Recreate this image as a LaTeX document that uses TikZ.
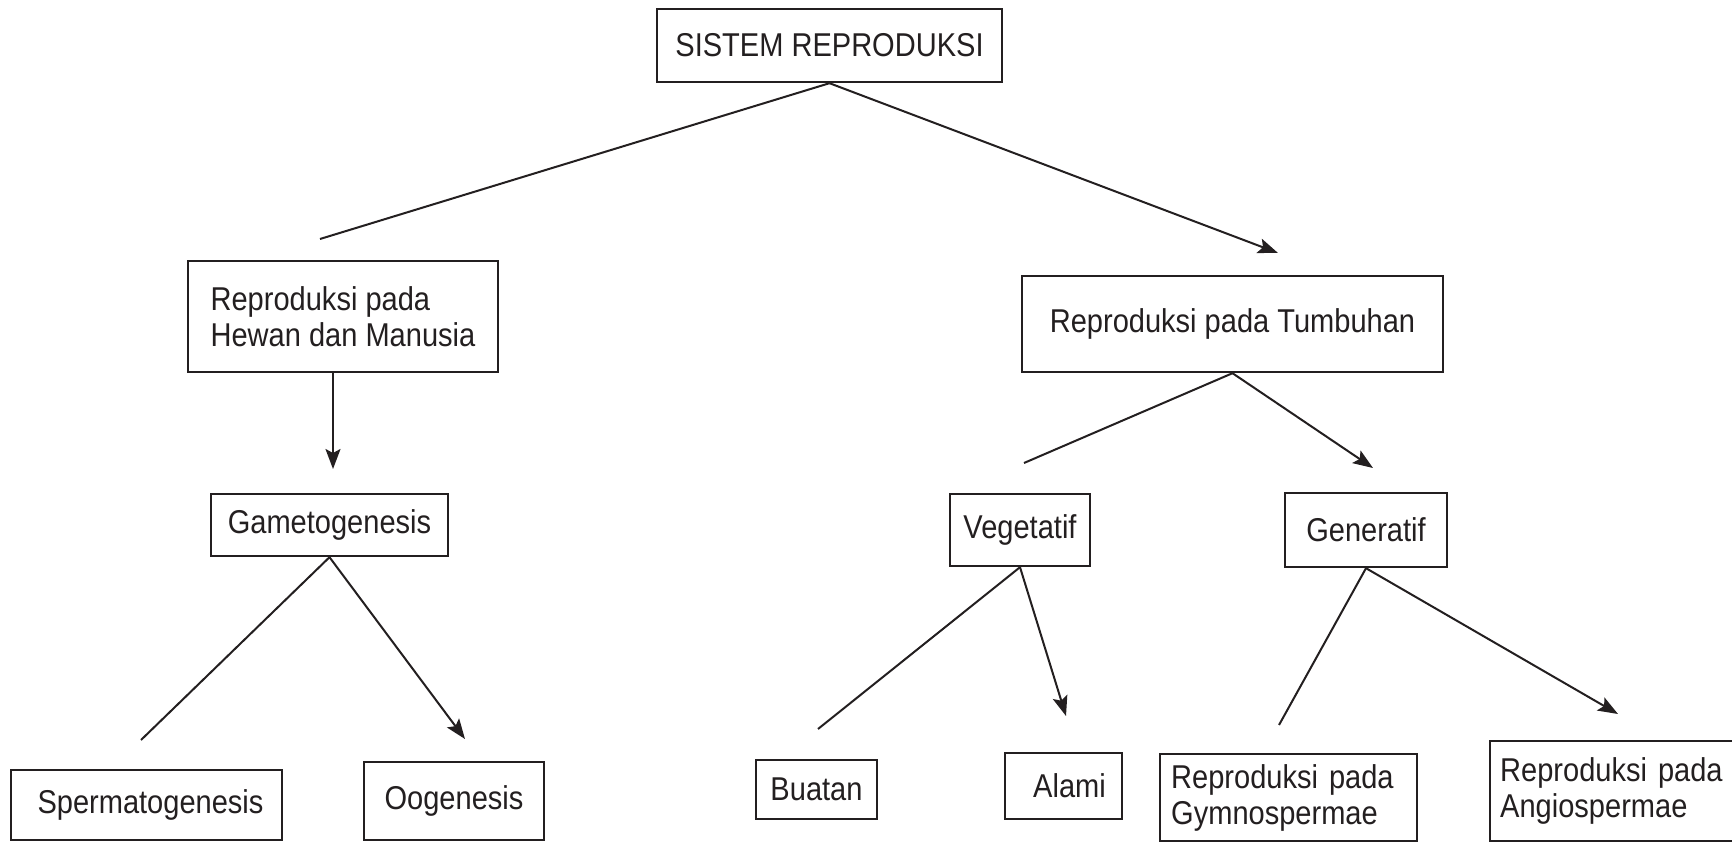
\documentclass[tikz,border=0pt]{standalone}
\usepackage{fontspec}
\setmainfont{Liberation Sans}[FakeStretch=0.88]
\usepackage{tikz}
\usetikzlibrary{arrows.meta, positioning}

\definecolor{ink}{RGB}{35,31,32}

\begin{document}
\begin{tikzpicture}[
    x=1pt, y=-1pt,
    every node/.style={font=\fontsize{33}{36}\selectfont, text=ink},
    box/.style={rectangle, draw=ink, line width=2.4pt, inner sep=0pt, align=center},
    link/.style={draw=ink, line width=2pt},
    arrow/.style={link, -{Stealth[length=20pt, width=15pt, inset=4pt]}}
]
\useasboundingbox (0,0) rectangle (1732,842);

% boxes
\node[box, minimum width=345, minimum height=73] (sys) at (829.5,45.5) {SISTEM REPRODUKSI};
\node[box, minimum width=310, minimum height=111, align=left] (hewan) at (343,316.5) {Reproduksi pada\\Hewan dan Manusia};
\node[box, minimum width=421, minimum height=96] (tumbuhan) at (1232.5,324) {Reproduksi pada Tumbuhan};
\node[box, minimum width=237, minimum height=62] (gameto) at (329.5,525) {Gametogenesis};
\node[box, minimum width=140, minimum height=72] (vegetatif) at (1020,530) {Vegetatif};
\node[box, minimum width=162, minimum height=74] (generatif) at (1366,530) {Generatif};
\node[box, minimum width=271, minimum height=70] (sperma) at (146.5,805) {\hspace{8pt}Spermatogenesis};
\node[box, minimum width=180, minimum height=78] (oogen) at (454,801) {Oogenesis};
\node[box, minimum width=121, minimum height=59] (buatan) at (816.5,789.5) {Buatan};
\node[box, minimum width=117, minimum height=66] (alami) at (1063.5,786) {\hspace{12pt}Alami};
\node[box, anchor=north west, minimum width=257, minimum height=87, inner xsep=11pt, text width=235, align=left] (gymno) at (1159,753) {Reproduksi pada\\Gymnospermae};
\node[box, anchor=north west, minimum width=256, minimum height=100, inner xsep=10pt, text width=236, align=left] (angio) at (1489,740) {Reproduksi pada\\Angiospermae};

% free ends
\coordinate (sysL) at (320,239);
\coordinate (sysR) at (1278,253);
\coordinate (hewanD) at (333,469);
\coordinate (tumL) at (1024,463);
\coordinate (tumR) at (1373,468);
\coordinate (gamL) at (141,740);
\coordinate (gamR) at (465,739);
\coordinate (vegL) at (818,729);
\coordinate (vegR) at (1066,716);
\coordinate (genL) at (1279,725);
\coordinate (genR) at (1618,714);

\draw[link] (sys.south) -- (sysL);
\draw[arrow] (sys.south) -- (sysR);
\draw[arrow] (hewan.south -| hewanD) -- (hewanD);
\draw[link] (tumbuhan.south) -- (tumL);
\draw[arrow] (tumbuhan.south) -- (tumR);
\draw[link] (gameto.south) -- (gamL);
\draw[arrow] (gameto.south) -- (gamR);
\draw[link] (vegetatif.south) -- (vegL);
\draw[arrow] (vegetatif.south) -- (vegR);
\draw[link] (generatif.south) -- (genL);
\draw[arrow] (generatif.south) -- (genR);

\end{tikzpicture}
\end{document}
